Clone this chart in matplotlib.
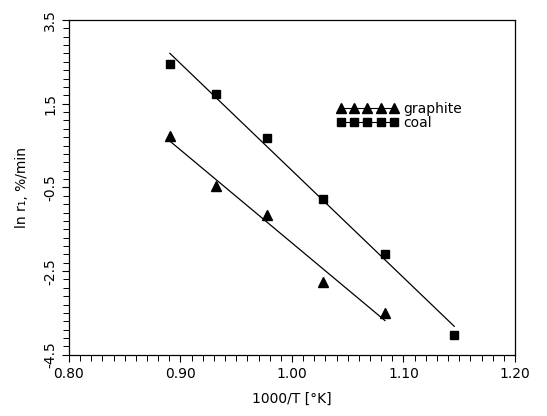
import numpy as np
import matplotlib
matplotlib.use('Agg')
import matplotlib.pyplot as plt
from matplotlib.ticker import MultipleLocator, FixedLocator

# 1000/T values (K^-1 * 1000)
x_coal = [0.8905, 0.9320, 0.9775, 1.0277, 1.0834, 1.1455]
y_coal = [2.45, 1.73, 0.67, -0.77, -2.08, -4.03]

x_graphite = [0.8905, 0.9320, 0.9775, 1.0277, 1.0834]
y_graphite = [0.72, -0.46, -1.16, -2.76, -3.50]

x_ticks = [0.80, 0.90, 1.00, 1.10, 1.20]
y_ticks = [3.5, 1.5, -0.5, -2.5, -4.5]
y_ticklabels = ['3.5', '1.5', '-0.5', '-2.5', '-4.5']

plt.rcParams['font.family'] = 'DejaVu Sans'

fig = plt.figure(figsize=(5.47, 4.16), dpi=100)
ax = fig.add_axes([0.126, 0.147, 0.8155, 0.805])

# fitted lines
for xs, ys in [(x_coal, y_coal), (x_graphite, y_graphite)]:
    k, b = np.polyfit(xs, ys, 1)
    xx = np.array([min(xs), max(xs)])
    ax.plot(xx, k * xx + b, color='black', lw=0.9)

ax.plot(x_graphite, y_graphite, '^', color='black', ms=7, ls='none')
ax.plot(x_coal, y_coal, 's', color='black', ms=5.5, ls='none')

h1 = plt.Line2D([], [], color='black', marker='^', ms=7, lw=0.8)
h2 = plt.Line2D([], [], color='black', marker='s', ms=5.5, lw=0.8)
ax.legend([h1, h2], ['graphite', 'coal'], numpoints=5, frameon=False,
          loc='upper left', bbox_to_anchor=(0.585, 0.775), handlelength=4.4,
          handletextpad=0.35, labelspacing=-0.05, fontsize=10, borderpad=0)

ax.set_xlim(0.80, 1.20)
ax.set_ylim(-4.5, 3.5)
ax.xaxis.set_major_locator(FixedLocator(x_ticks))
ax.xaxis.set_minor_locator(MultipleLocator(0.01))
ax.set_xticklabels(['%.2f' % v for v in x_ticks], fontsize=10)
ax.yaxis.set_major_locator(FixedLocator(y_ticks))
ax.yaxis.set_minor_locator(FixedLocator(np.arange(-4.5, 3.51, 0.2)))
ax.set_yticklabels(y_ticklabels, rotation=90, va='center', fontsize=10)

ax.tick_params(which='major', direction='out', length=5, width=0.8)
ax.tick_params(which='minor', direction='out', length=4, width=0.7)
for s in ax.spines.values():
    s.set_linewidth(0.9)

ax.set_xlabel('1000/T [°K]', fontsize=10, labelpad=8)
ax.set_ylabel('ln r₁, %/min', fontsize=10, labelpad=10)

fig.savefig('out.png', dpi=100)
